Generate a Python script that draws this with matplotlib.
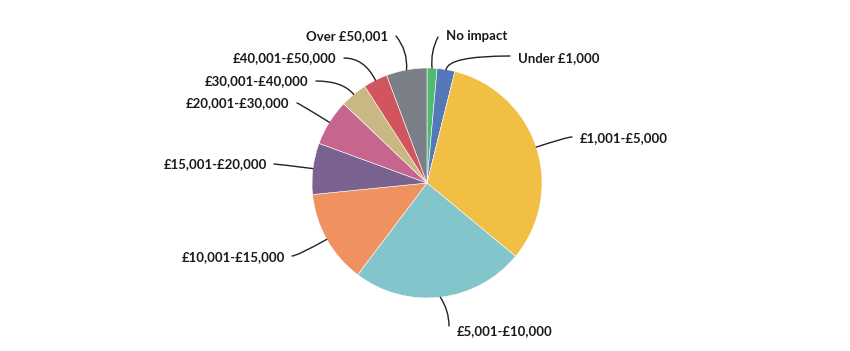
import numpy as np
import matplotlib
matplotlib.use("Agg")
import matplotlib.pyplot as plt

labels = ["No impact", "Under £1,000", "£1,001-£5,000", "£5,001-£10,000",
          "£10,001-£15,000", "£15,001-£20,000", "£20,001-£30,000",
          "£30,001-£40,000", "£40,001-£50,000", "Over £50,001"]
shares = [1.4, 2.5, 32.1, 24.3, 13.1, 7.2, 6.5, 3.8, 3.4, 5.7]
colors = ["#4fbb70", "#5578b8", "#f1bf44", "#82c6cc", "#ef925f",
          "#79628f", "#c6668f", "#c9b883", "#d2545d", "#7b8088"]

W, H = 850, 351
cx, cy, R = 427, H - 183, 115

# label text position (x, y in image px), alignment, leader start point
label_pos = {
    "No impact": (446, 36, "left", (438, 37)),
    "Under £1,000": (518, 58, "left", (510, 56)),
    "£1,001-£5,000": (580, 138, "left", (572, 137)),
    "£5,001-£10,000": (457, 331, "left", (449, 326)),
    "£10,001-£15,000": (285, 257, "right", (292, 256)),
    "£15,001-£20,000": (267, 164, "right", (274, 164)),
    "£20,001-£30,000": (289, 103, "right", (297, 103)),
    "£30,001-£40,000": (308, 81, "right", (316, 81)),
    "£40,001-£50,000": (336, 58, "right", (344, 58)),
    "Over £50,001": (388, 36, "right", (396, 36)),
}

fig = plt.figure(figsize=(W / 100, H / 100), dpi=100)
ax = fig.add_axes([0, 0, 1, 1])
ax.set_xlim(0, W)
ax.set_ylim(0, H)
ax.set_aspect("equal")
ax.axis("off")

wedges, _ = ax.pie(shares, colors=colors, startangle=90, counterclock=False,
                   center=(cx, cy), radius=R, frame=True,
                   wedgeprops=dict(linewidth=0.4, edgecolor="white"))
ax.set_xlim(0, W)
ax.set_ylim(0, H)
ax.axis("off")

for w, lab in zip(wedges, labels):
    mid = np.deg2rad((w.theta1 + w.theta2) / 2)
    ex, ey = cx + R * np.cos(mid), cy + R * np.sin(mid)
    tx, ty, ha, (sx, sy) = label_pos[lab]
    ax.text(tx, H - ty, lab, ha=ha, va="center", fontsize=9.5,
            fontweight="bold", family="Lato", color="#1a1a1a")
    ang = np.rad2deg(mid) % 180
    if lab in ("No impact", "Over £50,001", "£5,001-£10,000"):
        cs = "arc3,rad=0.15" if lab != "Over £50,001" else "arc3,rad=-0.2"
    else:
        cs = "angle3,angleA=0,angleB=%.1f" % ang
    ax.annotate("", xy=(ex, ey), xytext=(sx, H - sy),
                arrowprops=dict(arrowstyle="-", color="#222222", lw=1.0,
                                shrinkA=0, shrinkB=0, connectionstyle=cs))

fig.savefig("out.png", dpi=100)
